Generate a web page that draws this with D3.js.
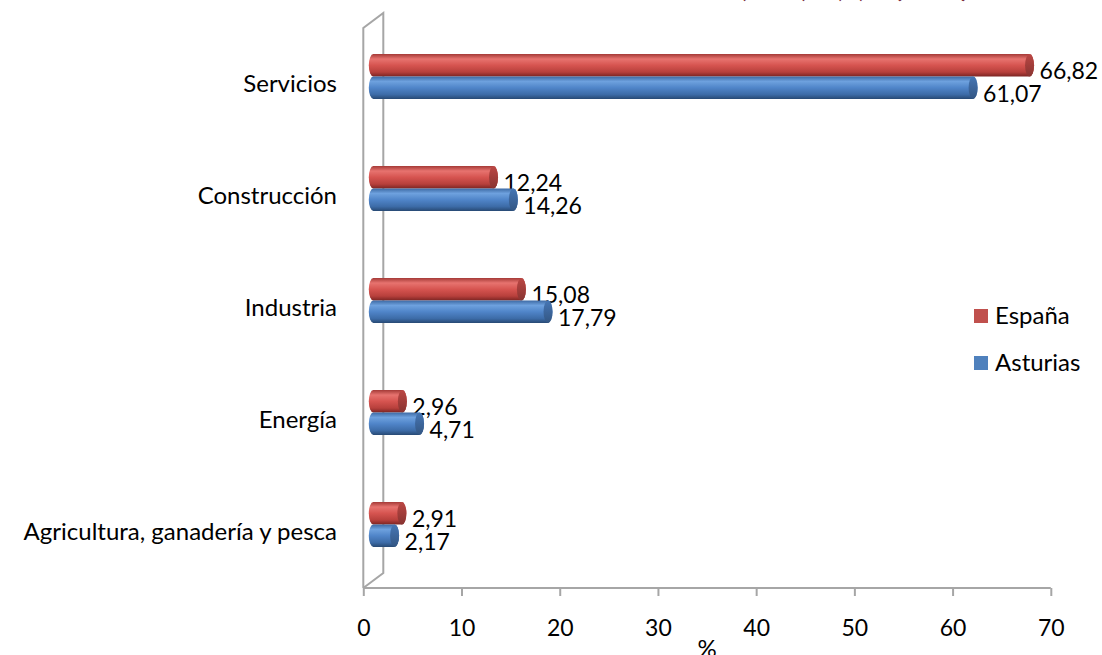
<!DOCTYPE html>
<html>
<head>
<meta charset="utf-8">
<script src="https://cdn.jsdelivr.net/npm/d3@7"></script>
<style>
html,body{margin:0;padding:0;background:#fff;}
svg{display:block;}
text{font-family:Lato,"Open Sans",sans-serif;fill:#000;}
</style>
</head>
<body>
<svg id="chart" width="1102" height="655"></svg>
<script>
// ---- data ----
const categories = ["Agricultura, ganadería y pesca", "Energía", "Industria", "Construcción", "Servicios"];
const seriesNames = ["España", "Asturias"];
const espana = [2.91, 2.96, 15.08, 12.24, 66.82];
const asturias = [2.17, 4.71, 17.79, 14.26, 61.07];
const xTicks = [0, 10, 20, 30, 40, 50, 60, 70];
const axisTitle = "%";
const titleParts = ["(2010)", "(%)", "(INE)"];

// ---- layout ----
const svg = d3.select("#chart");
const pL = 363.3, pR = 1050.8, pT = 28, pB = 588;
const depth = {dx: 20, dy: -15};
const mid = {dx: depth.dx / 2, dy: depth.dy / 2};
const fsLabel = 24, fsNum = 23;

const x = d3.scaleLinear().domain([0, 70]).range([pL, pR]);
const y = d3.scaleBand().domain(categories).range([pB, pT]).paddingInner(0.6).paddingOuter(0.3);
const ys = d3.scaleBand().domain(seriesNames).range([0, y.bandwidth()]);

const colors = {
  "España": {stops: ["#a63b38", "#e7736f", "#d65450", "#b8403c", "#7c2523"], cap: "#a8403d"},
  "Asturias": {stops: ["#3d6aa4", "#6ea1de", "#5085c9", "#3d6ca8", "#284a75"], cap: "#3f6aa2"}
};

const defs = svg.append("defs");
seriesNames.forEach((s, i) => {
  const g = defs.append("linearGradient").attr("id", "grad" + i)
    .attr("x1", 0).attr("y1", 0).attr("x2", 0).attr("y2", 1);
  const offs = [0, 0.22, 0.5, 0.8, 1];
  colors[s].stops.forEach((c, k) => g.append("stop").attr("offset", offs[k]).attr("stop-color", c));
  const gc = defs.append("linearGradient").attr("id", "capgrad" + i)
    .attr("x1", 0).attr("y1", 0).attr("x2", 0).attr("y2", 1);
  gc.append("stop").attr("offset", 0).attr("stop-color", d3.color(colors[s].cap).brighter(0.3));
  gc.append("stop").attr("offset", 1).attr("stop-color", d3.color(colors[s].cap).darker(0.6));
});

// ---- title (clipped at top, as in the original) ----
const titleX = [740, 836, 893];
const titleW = [68, 29, 77];
titleParts.forEach((t, i) => {
  svg.append("text").attr("x", titleX[i]).attr("y", -2)
    .attr("textLength", titleW[i]).attr("lengthAdjust", "spacingAndGlyphs")
    .style("font-size", "22px").style("fill", "#7b2c3a").text(t);
});

// ---- back wall ----
svg.append("path").attr("fill", "none").attr("stroke", "#a6a6a6").attr("stroke-width", 2)
  .attr("d", d3.line()([
    [pL, pB], [pL, pT], [pL + depth.dx, pT + depth.dy], [pL + depth.dx, pB + depth.dy], [pL, pB]
  ]));

// ---- x axis ----
const axisG = svg.append("g").attr("transform", `translate(0,${pB})`);
axisG.call(d3.axisBottom(x).tickValues(xTicks).tickSize(8).tickPadding(24).tickFormat(d3.format("d")));
axisG.select(".domain").attr("stroke", "#a6a6a6").attr("stroke-width", 2).attr("d", `M${pL},0H${pR}`);
axisG.selectAll(".tick line").attr("stroke", "#a6a6a6").attr("stroke-width", 2);
axisG.selectAll(".tick text").style("font-size", fsNum + "px").style("font-family", "Lato").attr("fill", "#000");

svg.append("text").attr("x", 707).attr("y", 657).attr("text-anchor", "middle")
  .style("font-size", fsLabel + "px").text(axisTitle);

// ---- category labels ----
svg.append("g").selectAll("text").data(categories).join("text")
  .attr("x", 337).attr("y", d => y(d) + y.bandwidth() / 2)
  .attr("dy", "0.35em").attr("text-anchor", "end")
  .style("font-size", fsLabel + "px").text(d => d);

// ---- bars (cylinders) ----
const rx = 4.5;
const data = [];
categories.forEach((c, i) => {
  data.push({cat: c, s: "España", si: 0, v: espana[i]});
  data.push({cat: c, s: "Asturias", si: 1, v: asturias[i]});
});
const fmt = v => d3.format(".2f")(v).replace(".", ",");

const bars = svg.append("g").selectAll("g").data(data).join("g");
bars.each(function(d) {
  const g = d3.select(this);
  const x0 = x(0) + mid.dx, x1 = x(d.v) + mid.dx;
  const y0 = y(d.cat) + ys(d.s) + mid.dy, h = ys.bandwidth();
  const ry = h / 2;
  g.append("path")
    .attr("d", `M${x0},${y0} L${x1},${y0} L${x1},${y0 + h} L${x0},${y0 + h} A${rx},${ry} 0 0 1 ${x0},${y0} Z`)
    .attr("fill", `url(#grad${d.si})`);
  g.append("path")
    .attr("d", `M${x1},${y0} A${rx},${ry} 0 0 1 ${x1},${y0 + h} Z`)
    .attr("fill", `url(#grad${d.si})`);
  g.append("ellipse").attr("cx", x1).attr("cy", y0 + ry).attr("rx", rx).attr("ry", ry)
    .attr("fill", `url(#capgrad${d.si})`);
  g.append("text").attr("x", x1 + 10).attr("y", y0 + ry + 14)
    .style("font-size", fsNum + "px").text(fmt(d.v));
});

// ---- legend ----
const leg = svg.append("g").selectAll("g").data(seriesNames).join("g")
  .attr("transform", (d, i) => `translate(974,${309 + i * 47})`);
leg.append("rect").attr("width", 14).attr("height", 14).attr("fill", (d, i) => i === 0 ? "#c0504d" : "#4f81bd");
leg.append("text").attr("x", 21).attr("y", 7).attr("dy", "0.35em").style("font-size", fsLabel + "px").text(d => d);
</script>
</body>
</html>
